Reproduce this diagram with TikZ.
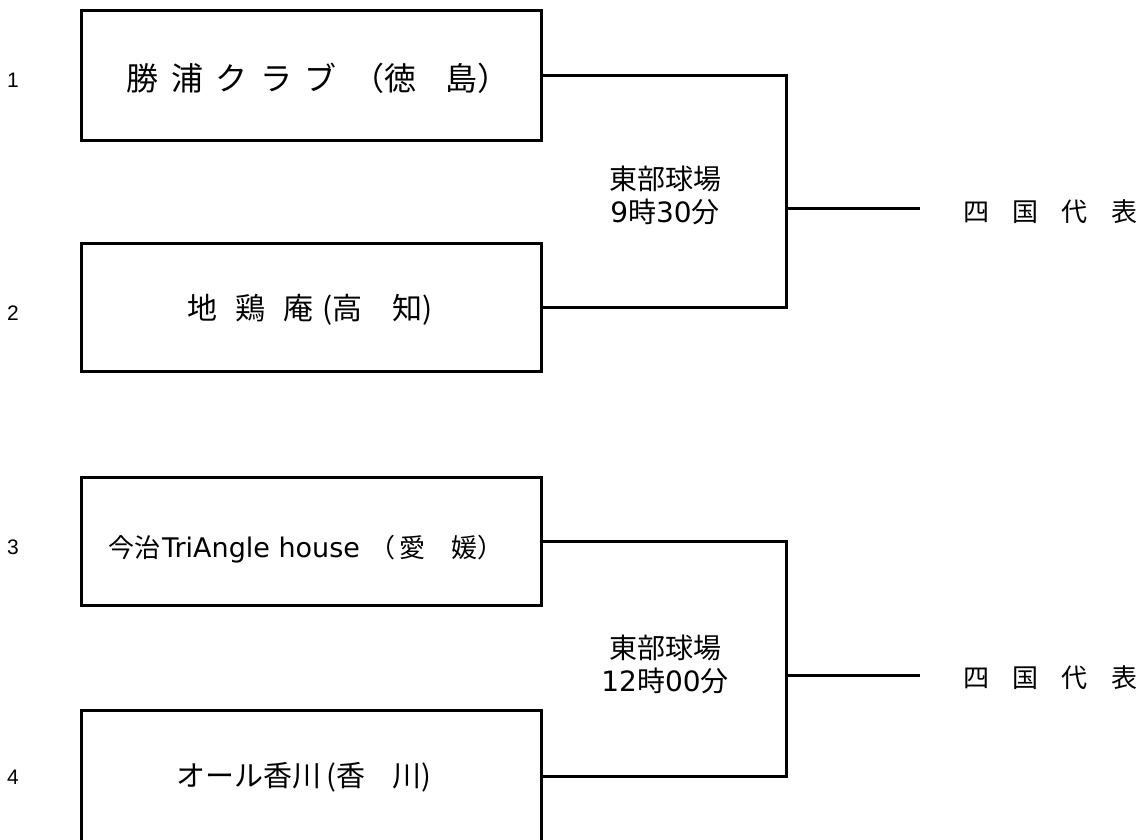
\documentclass[tikz,border=0pt]{standalone}
\usepackage{fontspec}
\setmainfont{Noto Sans CJK JP}
\newfontfamily\numfont{Liberation Sans}
\newfontfamily\latfont{DejaVu Sans}
\newcommand{\dg}[1]{{\latfont #1}}
\begin{document}
\begin{tikzpicture}[x=1pt,y=-1pt,
  box/.style={draw, line width=3pt, minimum width=460pt, inner sep=0pt},
  team/.style={inner sep=0pt},
  link/.style={line width=3pt},
  num/.style={font=\numfont\fontsize{21}{24}\selectfont, inner sep=0pt},
  venue/.style={font=\fontsize{28}{33}\selectfont, align=center, inner sep=0pt},
  rep/.style={font=\fontsize{26}{30}\selectfont, inner sep=0pt, anchor=west}]
\useasboundingbox (0,0) rectangle (1145,839);
% boxes
\node[box, minimum height=130pt] (b1) at (311,75) {};
\node[box, minimum height=128pt] (b2) at (311,307) {};
\node[box, minimum height=128pt] (b3) at (311,541) {};
\node[box, minimum height=132pt] (b4) at (311,776) {};
% team names
\node[team, font=\fontsize{32}{36}\selectfont] (t1) at (318,78)
  {勝\hspace{0.39em}浦\hspace{0.39em}ク\hspace{0.39em}ラ\hspace{0.39em}ブ\hspace{0.5em}（徳\hspace{0.9em}島）};
\node[team, font=\fontsize{30}{34}\selectfont] (t2) at (310,310)
  {地\hspace{0.6em}鶏\hspace{0.6em}庵\hspace{0.3em}(高\hspace{1em}知)};
\node[team, font=\fontsize{26}{30}\selectfont] (t3) at (306,549)
  {今治\hspace{2pt}{\latfont\fontsize{27}{30}\selectfont TriAngle house}\hspace{10pt}（\hspace{4pt}愛\hspace{1em}媛）};
\node[team, font=\fontsize{29}{34}\selectfont] (t4) at (304,777)
  {オール香川\hspace{5pt}(香\hspace{0.95em}川)};
% seed numbers
\node[num] (n1) at (13,80) {1};
\node[num] (n2) at (13,313) {2};
\node[num] (n3) at (13,547) {3};
\node[num] (n4) at (13,777) {4};
% brackets
\coordinate (m1) at (786,208);
\coordinate (e1) at (920,208);
\coordinate (m2) at (786,675);
\coordinate (e2) at (920,675);
\draw[link] (b1.east) -| (m1) |- (b2.east);
\draw[link] (m1) -- (e1);
\draw[link] (b3.east) -| (m2) |- (b4.east);
\draw[link] (m2) -- (e2);
% venue labels
\node[venue] (v1) at (665,195) {東部球場\\\dg{9}時\dg{30}分};
\node[venue] (v2) at (665,664) {東部球場\\\dg{12}時\dg{00}分};
% representatives
\node[rep] (r1) at (963,212) {四\hspace{0.9em}国\hspace{0.9em}代\hspace{0.9em}表};
\node[rep] (r2) at (963,678) {四\hspace{0.9em}国\hspace{0.9em}代\hspace{0.9em}表};
\end{tikzpicture}
\end{document}
